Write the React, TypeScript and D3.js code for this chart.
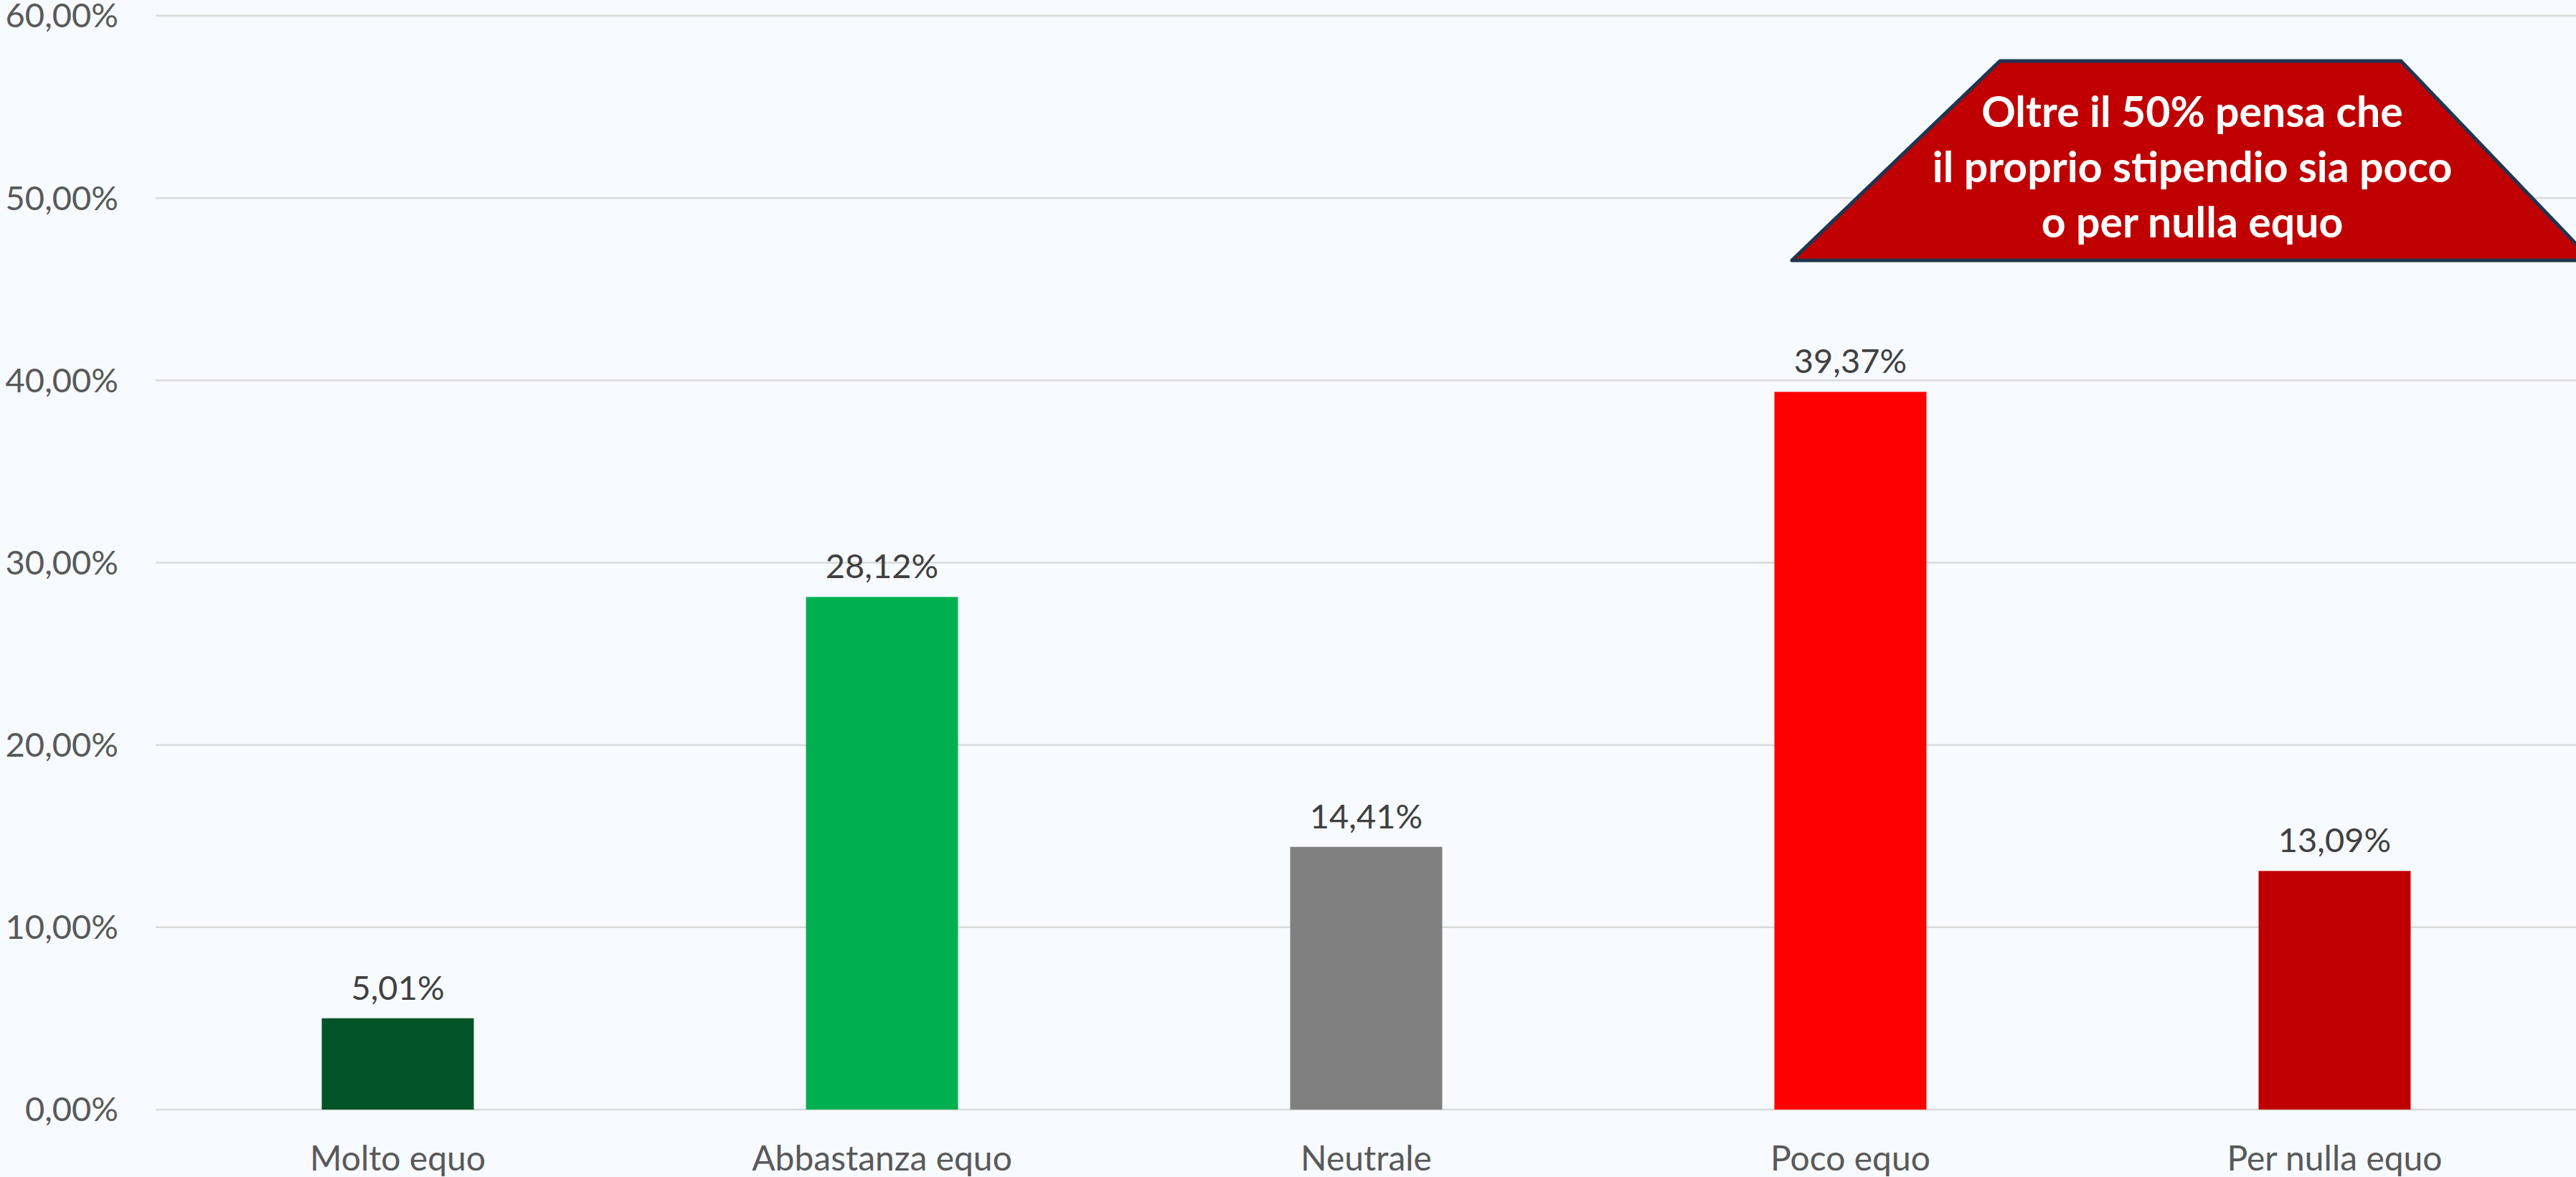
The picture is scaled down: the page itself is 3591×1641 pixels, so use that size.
import React from "react";
import * as d3 from "d3";

const categories = ["Molto equo", "Abbastanza equo", "Neutrale", "Poco equo", "Per nulla equo"];
const values = [0.0501, 0.2812, 0.1441, 0.3937, 0.1309];
const barColors = ["#005428", "#00B050", "#808080", "#FF0000", "#C00000"];
const yTicks = [0, 0.1, 0.2, 0.3, 0.4, 0.5, 0.6];
const calloutLines = ["Oltre il 50% pensa che", "il proprio stipendio sia poco", "o per nulla equo"];

const W = 3591;
const H = 1641;

const fmt = (v: number) => (v * 100).toFixed(2).replace(".", ",") + "%";

export default function App() {
  const x = d3
    .scaleBand<string>()
    .domain(categories)
    .range([217, 3592])
    .paddingInner(0.686)
    .paddingOuter(0.343);
  const y = d3.scaleLinear().domain([0, 0.6]).range([1547, 22]);

  const trap = d3.line()([
    [2788, 85],
    [3347, 85],
    [3613, 363],
    [2498, 363],
  ]) + "Z";

  return (
    <svg
      width={W}
      height={H}
      style={{ position: "absolute", left: 0, top: 0, display: "block" }}
    >
      <rect x={0} y={0} width={W} height={H} fill="#F7FAFE" />
      {yTicks.map((t) => (
        <g key={t}>
          <line x1={217} x2={W} y1={y(t)} y2={y(t)} stroke="#D9D9D9" strokeWidth={2.5} />
          <text
            x={165}
            y={y(t)}
            dy="0.35em"
            textAnchor="end"
            fontFamily="Lato, 'Open Sans', sans-serif"
            fontSize={47}
            fill="#595959"
          >
            {fmt(t)}
          </text>
        </g>
      ))}
      {categories.map((c, i) => {
        const bx = x(c)!;
        const bw = x.bandwidth();
        return (
          <g key={c}>
            <rect x={bx} y={y(values[i])} width={bw} height={y(0) - y(values[i])} fill={barColors[i]} />
            <text
              x={bx + bw / 2}
              y={y(values[i]) - 26}
              textAnchor="middle"
              fontFamily="Lato, 'Open Sans', sans-serif"
              fontSize={47}
              fill="#404040"
            >
              {fmt(values[i])}
            </text>
            <text
              x={bx + bw / 2}
              y={1632}
              textAnchor="middle"
              fontFamily="Lato, 'Open Sans', sans-serif"
              fontSize={48}
              fill="#595959"
            >
              {c}
            </text>
          </g>
        );
      })}
      <path d={trap} fill="#C00000" stroke="#1F3550" strokeWidth={5} strokeLinejoin="round" />
      {calloutLines.map((l, i) => (
        <text
          key={i}
          x={3056}
          y={177 + i * 77}
          textAnchor="middle"
          fontFamily="Lato, 'Open Sans', sans-serif"
          fontWeight="bold"
          fontSize={59}
          fill="#FFFFFF"
        >
          {l}
        </text>
      ))}
    </svg>
  );
}
